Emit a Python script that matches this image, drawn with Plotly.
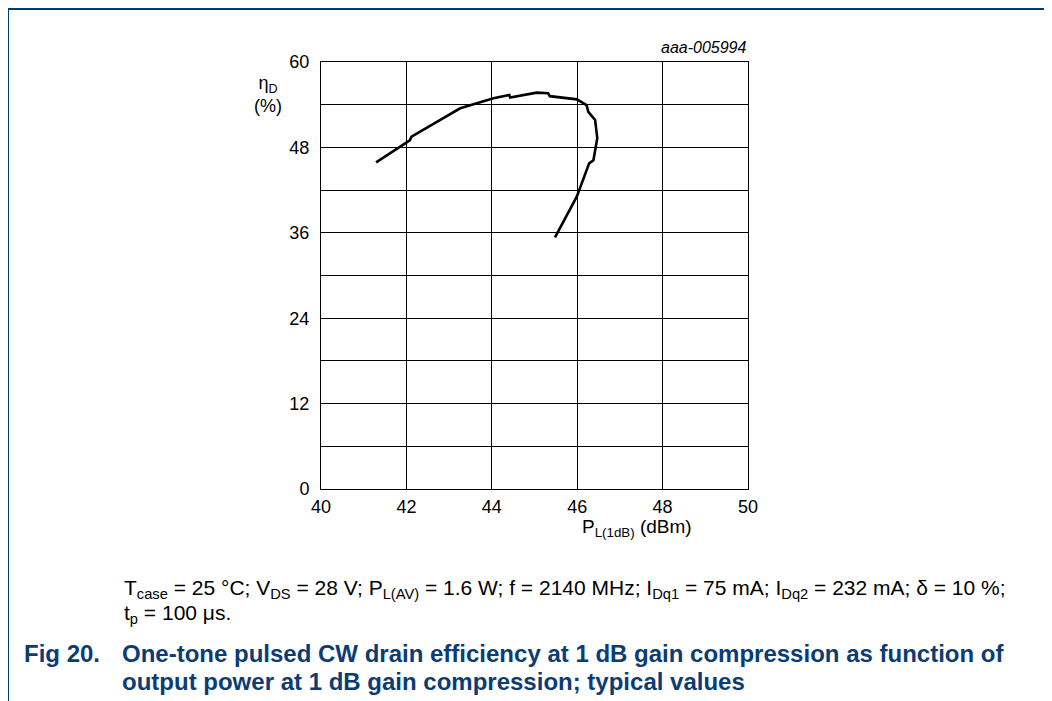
import plotly.graph_objects as go

# Data
p_out = [41.29, 42.08, 42.12, 43.22, 43.26, 44.04, 44.41, 44.43, 45.05, 45.32, 45.36,
         45.99, 46.22, 46.26, 46.42, 46.47, 46.38, 46.28, 46.04, 45.99, 45.48]
eff = [45.9, 49.0, 49.5, 53.25, 53.5, 54.9, 55.36, 55.0, 55.7, 55.6, 55.2,
       54.75, 53.95, 53.0, 51.85, 49.3, 46.2, 45.76, 42.0, 41.07, 35.36]
x_ticks = [40, 42, 44, 46, 48, 50]
y_grid = [0, 6, 12, 18, 24, 30, 36, 42, 48, 54, 60]
y_labels = ["0", "", "12", "", "24", "", "36", "", "48", "", "60"]

OFF = 8  # page body margin
W, H = 1052 - OFF, 701 - OFF
L, R, T, B = 321, 748, 62, 489  # plot box in screenshot pixels
pw, ph = R - L, B - T

def px(x):
    return (x - L) / pw

def py(y):
    return (B - y) / ph

fig = go.Figure()
fig.add_trace(go.Scatter(x=p_out, y=eff, mode="lines",
                         line=dict(color="black", width=2.6), showlegend=False,
                         hoverinfo="skip"))

font = dict(family="Liberation Sans, Arial, sans-serif", size=18, color="black")
fig.update_layout(
    width=W, height=H, autosize=False,
    margin=dict(l=L - OFF, r=W - (R - OFF), t=T - OFF, b=H - (B - OFF), pad=0),
    paper_bgcolor="white", plot_bgcolor="white",
    font=font,
    xaxis=dict(range=[40, 50], tickvals=x_ticks, showgrid=True, gridcolor="black",
               gridwidth=1, showline=True, linecolor="black", linewidth=1, mirror=True,
               zeroline=False, ticks="", tickfont=font, ticklen=0, ticklabelstandoff=1),
    yaxis=dict(range=[0, 60], tickvals=y_grid, ticktext=y_labels, showgrid=True,
               gridcolor="black", gridwidth=1, showline=True, linecolor="black",
               linewidth=1, mirror=True, zeroline=False, ticks="", tickfont=font,
               ticklabelstandoff=7),
)

ann = []
ann.append(dict(x=px(749), y=py(48), xref="paper", yref="paper", text="<i>aaa-005994</i>",
                showarrow=False, xanchor="right", yanchor="middle",
                font=dict(family="Liberation Sans, Arial", size=16, color="black")))
ann.append(dict(x=px(268), y=py(95), xref="paper", yref="paper",
                text="η<sub>D</sub><br>(%)", showarrow=False, xanchor="center",
                yanchor="middle", font=font, align="center"))
ann.append(dict(x=px(637), y=py(528), xref="paper", yref="paper",
                text="P<sub>L(1dB)</sub> (dBm)", showarrow=False, xanchor="center",
                yanchor="middle", font=dict(family="Liberation Sans, Arial", size=19,
                                            color="black")))
cap_font = dict(family="Liberation Sans, Arial", size=21, color="black")
ann.append(dict(x=px(122), y=py(589), xref="paper", yref="paper",
                text="T<sub>case</sub> = 25 °C; V<sub>DS</sub> = 28 V; P<sub>L(AV)</sub> = 1.6 W; "
                     "f = 2140 MHz; I<sub>Dq1</sub> = 75 mA; I<sub>Dq2</sub> = 232 mA; δ = 10 %;",
                showarrow=False, xanchor="left", yanchor="middle", font=cap_font))
ann.append(dict(x=px(122), y=py(614), xref="paper", yref="paper",
                text="t<sub>p</sub> = 100 μs.", showarrow=False, xanchor="left",
                yanchor="middle", font=cap_font))
title_font = dict(family="Liberation Sans, Arial", size=24, color="#0c3c74")
ann.append(dict(x=px(22), y=py(653), xref="paper", yref="paper", text="<b>Fig 20.</b>",
                showarrow=False, xanchor="left", yanchor="middle", font=title_font))
ann.append(dict(x=px(120), y=py(653), xref="paper", yref="paper",
                text="<b>One-tone pulsed CW drain efficiency at 1 dB gain compression as function of</b>",
                showarrow=False, xanchor="left", yanchor="middle", font=title_font))
ann.append(dict(x=px(120), y=py(681), xref="paper", yref="paper",
                text="<b>output power at 1 dB gain compression; typical values</b>",
                showarrow=False, xanchor="left", yanchor="middle", font=title_font))
fig.update_layout(annotations=ann)

border = "#003a70"
fig.add_shape(type="line", xref="paper", yref="paper", x0=px(8), x1=px(8),
              y0=py(9), y1=py(710), line=dict(color=border, width=2))
fig.add_shape(type="line", xref="paper", yref="paper", x0=px(7), x1=px(1060),
              y0=py(9), y1=py(9), line=dict(color=border, width=2))

fig.write_html("out.html")
